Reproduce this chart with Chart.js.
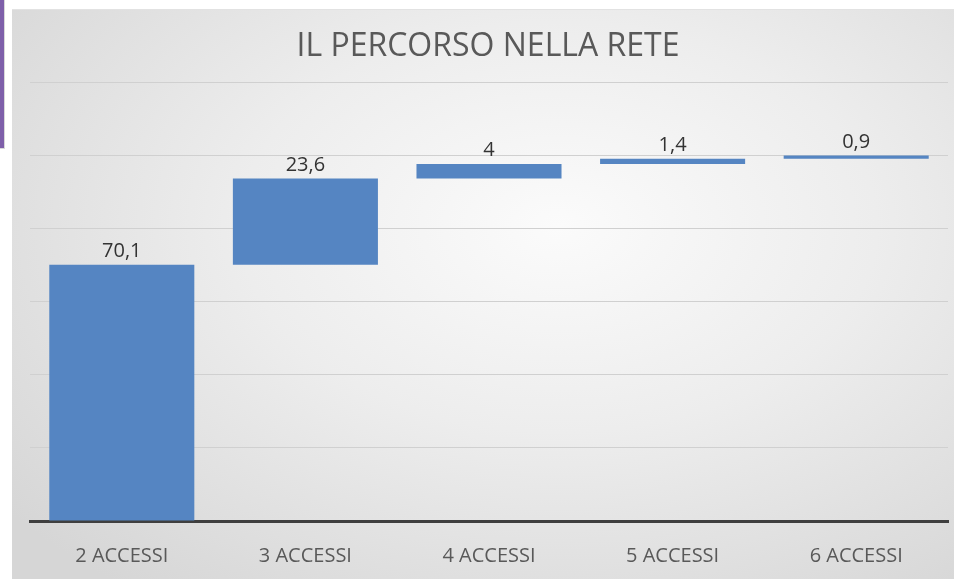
<!DOCTYPE html>
<html>
<head>
<meta charset="utf-8">
<script src="https://cdn.jsdelivr.net/npm/chart.js@4.4.1/dist/chart.umd.min.js"></script>
<style>
    html, body { margin: 0; padding: 0; background: #ffffff; }
    body { width: 954px; height: 579px; position: relative; overflow: hidden; }
    #strip { position: absolute; left: 0; top: 0; width: 4px; height: 148px; background: #7e5fa9; border-right: 1px solid #d8d8d8; border-bottom: 1px solid #d8d8d8; }
    #frame {
        position: absolute; left: 12px; top: 9px; width: 942px; height: 570px;
        background: radial-gradient(ellipse 75% 80% at 58% 38%, #fbfbfb 0%, #ededed 45%, #d6d6d6 100%);
        border-top: 1px solid #e2e2e2;
    }
    canvas { display: block; }
</style>
</head>
<body>
<div id="strip"></div>
<div id="frame"><canvas id="waterfallChart" width="942" height="570"></canvas></div>
<script>
const categories = ['2 ACCESSI', '3 ACCESSI', '4 ACCESSI', '5 ACCESSI', '6 ACCESSI']
const values = [70.1, 23.6, 4, 1.4, 0.9]
const yTicks = [0, 20, 40, 60, 80, 100, 120]

// waterfall: every bar floats from the running total before it
const steps = []
let total = 0
values.forEach(v => {
    steps.push([total, total + v])
    total += v
})

const barLabels = {
    id: 'barLabels',
    afterDatasetsDraw(chart) {
        const ctx = chart.ctx
        const meta = chart.getDatasetMeta(0)
        ctx.save()
        ctx.font = '20px "Open Sans"'
        ctx.fillStyle = '#333333'
        ctx.textAlign = 'center'
        ctx.textBaseline = 'alphabetic'
        meta.data.forEach((bar, i) => {
            ctx.fillText(String(values[i]).replace('.', ','), bar.x, bar.y - 8)
        })
        ctx.restore()
    }
}

const ctx = document.getElementById('waterfallChart').getContext('2d');

new Chart(ctx, {
    type: 'bar',
    data: {
        labels: categories,
        datasets: [{
            data: steps,
            backgroundColor: '#5585c2',
            borderWidth: 0,
            borderSkipped: false,
            categoryPercentage: 0.79,
            barPercentage: 1,
        }]
    },
    options: {
        responsive: false,
        animation: false,
        devicePixelRatio: 1,
        layout: {
            padding: { left: 16, right: 6, top: 0, bottom: 0 }
        },
        scales: {
            x: {
                grid: { display: false },
                border: { display: true, color: '#3f3f3f', width: 3 },
                ticks: {
                    color: '#595959',
                    padding: 15,
                    font: { family: '"Open Sans"', size: 20 }
                },
                afterFit: (scale) => { scale.height = 59 }
            },
            y: {
                min: yTicks[0],
                max: yTicks[yTicks.length - 1],
                afterBuildTicks: (scale) => { scale.ticks = yTicks.map(v => ({ value: v })) },
                ticks: { display: false },
                grid: { color: '#d0d0d0', lineWidth: 1, drawTicks: false },
                border: { display: false },
                afterFit: (scale) => { scale.width = 2 }
            }
        },
        plugins: {
            legend: { display: false },
            tooltip: { enabled: false },
            title: {
                display: true,
                text: 'IL PERCORSO NELLA RETE',
                color: '#595959',
                padding: { top: 18, bottom: 16 },
                font: { family: '"Open Sans"', size: 32, weight: 'normal' }
            }
        }
    },
    plugins: [barLabels]
});
</script>
</body>
</html>
